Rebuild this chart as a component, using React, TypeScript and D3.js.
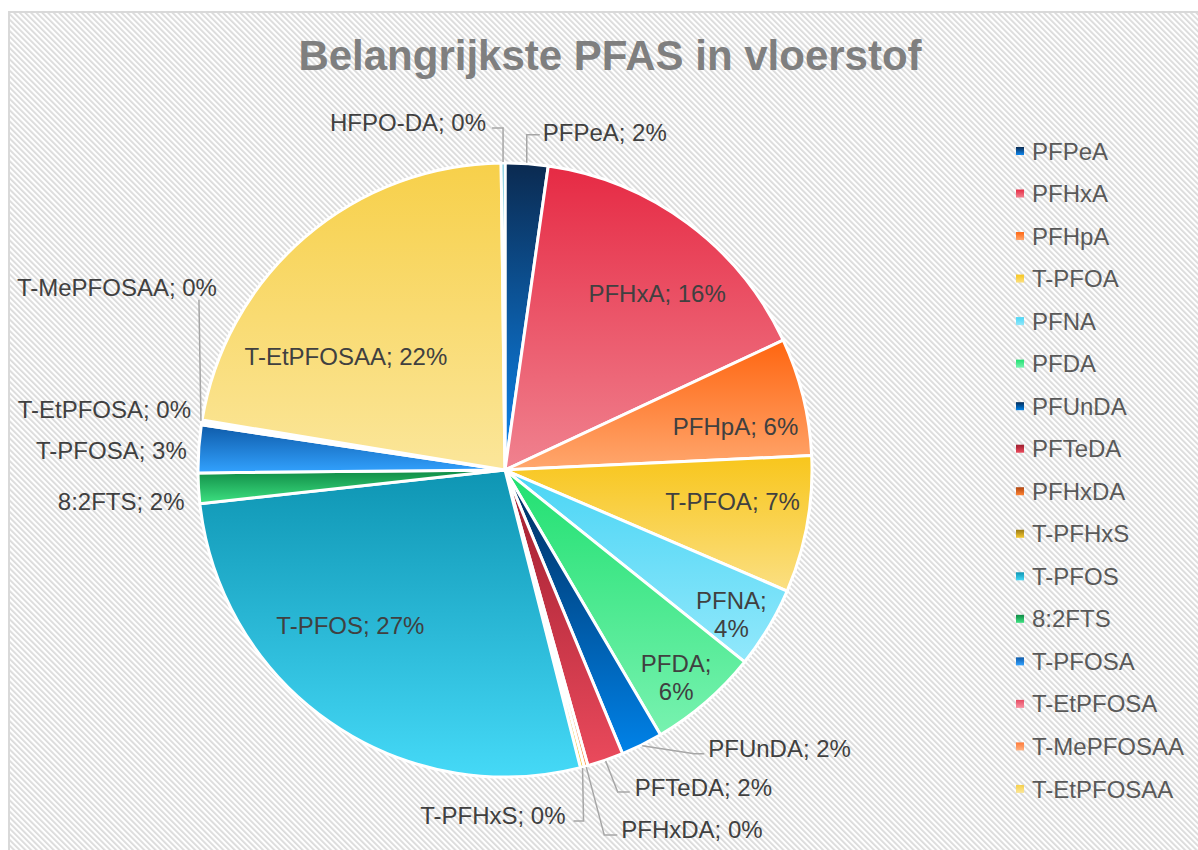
import React from "react";
import * as d3 from "d3";

// PFAS components in the order Excel draws them (clockwise from 12 o'clock)
const names = [
  "PFPeA", "PFHxA", "PFHpA", "T-PFOA", "PFNA", "PFDA", "PFUnDA", "PFTeDA",
  "PFHxDA", "T-PFHxS", "T-PFOS", "8:2FTS", "T-PFOSA", "T-EtPFOSA",
  "T-MePFOSAA", "T-EtPFOSAA", "HFPO-DA",
];
const shares = [
  2.25, 15.8, 6.2, 7.2, 4.3, 5.8, 2.2, 1.9,
  0.2, 0.2, 27.2, 1.6, 2.5, 0.15,
  0.1, 22.2, 0.2,
];
// legend only has room for the first 16
const legendCount = 16;

// gradient top -> bottom per slice
const topColors = [
  "#0b2a50", "#e62a44", "#ff6510", "#f8c61c", "#4ad5f5", "#20e070", "#002b5a", "#9e1d2e",
  "#b04510", "#9a7a14", "#0e95b3", "#0f8a45", "#0e5aa8", "#e64a62",
  "#ff7a38", "#f7d04a", "#2aa8c8",
];
const bottomColors = [
  "#0d88f2", "#f0828f", "#ffa76e", "#fbdf82", "#92e8fb", "#78f2b0", "#0082e8", "#ea4a5c",
  "#ff8434", "#f4c832", "#45d9f7", "#3ee282", "#32a2ff", "#f892a2",
  "#ffb282", "#fbe69a", "#70d8f0",
];

const width = 1198;
const height = 850;
const cx = 505;
const cy = 470;
const R = 307;
const fontSize = 24;
const capMid = fontSize * 0.358;

// label placement tweaks (Excel "best fit")
const insideNudge: Record<string, [number, number]> = {
  PFHxA: [15, 8],
  PFHpA: [7, 12],
  "T-PFOA": [1, -9.5],
  PFNA: [29, 26],
  PFDA: [20.5, 33.6],
  "T-PFOS": [-23.4, -33.5],
  "T-EtPFOSAA": [-9, 61.4],
};
const twoLine = new Set(["PFNA", "PFDA"]);

// outside labels: elbow offset from arc edge, horizontal run, text offset from elbow
const outside: Record<string, { e: [number, number]; run: number; t: [number, number]; anchor: string; line: boolean }> = {
  PFPeA: { e: [0, -28], run: 13, t: [16, -2], anchor: "start", line: true },
  "HFPO-DA": { e: [0, -34], run: -11, t: [-17, -6], anchor: "end", line: true },
  PFUnDA: { e: [52, 8], run: 10, t: [14, -5], anchor: "start", line: true },
  PFTeDA: { e: [12, 31], run: 12, t: [17, -5], anchor: "start", line: true },
  PFHxDA: { e: [18, 68], run: 13, t: [17, -6], anchor: "start", line: true },
  "T-PFHxS": { e: [1, 53], run: -10, t: [-18, -6], anchor: "end", line: true },
  "T-MePFOSAA": { e: [-2, -121], run: 0, t: [18, -12], anchor: "end", line: true },
  "T-EtPFOSA": { e: [0, 0], run: 0, t: [-9.5, -14], anchor: "end", line: false },
  "T-PFOSA": { e: [0, 0], run: 0, t: [-11, 2], anchor: "end", line: false },
  "8:2FTS": { e: [0, 0], run: 0, t: [-13, 13.5], anchor: "end", line: false },
};

const font = "'Liberation Sans', Arial, sans-serif";

export default function App() {
  const data = names.map((n, i) => ({ name: n, value: shares[i], idx: i }));
  const total = d3.sum(shares);

  const pie = d3
    .pie<any>()
    .sort(null)
    .value((d) => d.value)
    .startAngle(0)
    .endAngle(2 * Math.PI);
  const arcs = pie(data);

  const arc = d3.arc<any>().innerRadius(0).outerRadius(R);
  const labelArc = d3.arc<any>().innerRadius(R * 0.75).outerRadius(R * 0.75);

  const pct = (v: number) => `${Math.round((v / total) * 100)}%`;

  return (
    <svg
      width={width}
      height={height}
      style={{ position: "absolute", left: 0, top: 0 }}
      fontFamily={font}
    >
      <defs>
        <pattern
          id="hatch"
          width={4}
          height={4}
          patternUnits="userSpaceOnUse"
          patternTransform="rotate(-45)"
        >
          <rect width={4} height={4} fill="#ffffff" />
          <rect width={1.8} height={4} fill="#dadada" />
        </pattern>
        {names.map((n, i) => (
          <linearGradient key={n} id={`g${i}`} x1={0} y1={0} x2={0} y2={1}>
            <stop offset="0%" stopColor={topColors[i]} />
            <stop offset="100%" stopColor={bottomColors[i]} />
          </linearGradient>
        ))}
      </defs>

      <rect x={0} y={0} width={width} height={height} fill="#ffffff" />
      <rect
        x={9}
        y={12}
        width={width + 10}
        height={height + 10}
        fill="url(#hatch)"
        stroke="#d9d9d9"
        strokeWidth={2}
      />

      <text
        x={610}
        y={70}
        textAnchor="middle"
        fontSize={42}
        fontWeight="bold"
        fill="#7f7f7f"
      >
        Belangrijkste PFAS in vloerstof
      </text>

      <g transform={`translate(${cx},${cy})`}>
        {arcs.map((a) => (
          <path
            key={a.data.name}
            d={arc(a) || ""}
            fill={`url(#g${a.data.idx})`}
            stroke="#ffffff"
            strokeWidth={3}
            strokeLinejoin="round"
          />
        ))}
      </g>

      {arcs.map((a) => {
        const n = a.data.name;
        const label = `${n}; ${pct(a.data.value)}`;
        if (insideNudge[n]) {
          const [lx, ly] = labelArc.centroid(a);
          const [nx, ny] = insideNudge[n];
          const x = cx + lx + nx;
          const y = cy + ly + ny;
          if (twoLine.has(n)) {
            return (
              <text key={n} x={x} textAnchor="middle" fontSize={fontSize} fill="#404040">
                <tspan x={x} y={y - 14 + capMid}>{`${n};`}</tspan>
                <tspan x={x} y={y + 14 + capMid}>{pct(a.data.value)}</tspan>
              </text>
            );
          }
          return (
            <text key={n} x={x} y={y + capMid} textAnchor="middle" fontSize={fontSize} fill="#404040">
              {label}
            </text>
          );
        }
        const o = outside[n];
        if (!o) return null;
        const mid = (a.startAngle + a.endAngle) / 2;
        const px = cx + Math.sin(mid) * (R + 1);
        const py = cy - Math.cos(mid) * (R + 1);
        const ex = px + o.e[0];
        const ey = py + o.e[1];
        const tx = ex + o.t[0];
        const ty = ey + o.t[1];
        const pts: [number, number][] = [
          [px, py],
          [ex, ey],
          [ex + o.run, ey],
        ];
        return (
          <g key={n}>
            {o.line && (
              <path
                d={d3.line()(pts) || ""}
                fill="none"
                stroke="#a6a6a6"
                strokeWidth={1.5}
              />
            )}
            <text x={tx} y={ty + capMid} textAnchor={o.anchor as any} fontSize={fontSize} fill="#404040">
              {label}
            </text>
          </g>
        );
      })}

      <g transform="translate(1016,0)">
        {names.slice(0, legendCount).map((n, i) => {
          const y = 151 + i * 42.53;
          return (
            <g key={n}>
              <rect x={0} y={y - 4} width={8} height={8} fill={`url(#g${i})`} />
              <text x={16} y={y + capMid} fontSize={fontSize} fill="#595959">
                {n}
              </text>
            </g>
          );
        })}
      </g>
    </svg>
  );
}
